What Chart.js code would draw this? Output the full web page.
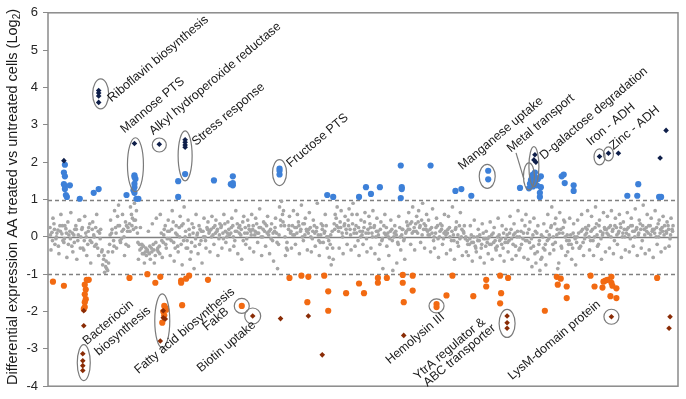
<!DOCTYPE html>
<html>
<head>
<meta charset="utf-8">
<script src="https://cdn.jsdelivr.net/npm/chart.js@4.4.1/dist/chart.umd.min.js"></script>
<style>
  html, body { margin: 0; padding: 0; background: #fff; }
  canvas { display: block; }
</style>
</head>
<body>
<canvas id="exprChart" width="686" height="399"></canvas>
<script>
// y ticks (log2 fold change)
const yTicks = [-4, -3, -2, -1, 0, 1, 2, 3, 4, 5, 6];
const refLines = [1, 0, -1];

// genes inside the +/-1 band, in genome order (two genes per step)
const grayA = [
  0.25, 0.12, 0.35, -0.05, 0.18, 0.3, 0.08, -0.15, 0.22, 0.4,
  0.15, -0.25, 0.05, 0.3, -0.1, 0.45, 0.2, -0.35, 0.1, -0.2,
  0.35, -0.15, 0.05, 0.25, -0.3, 0.1, -0.4, -0.6, -0.8, -0.9,
  -0.2, 0.1, -0.1, 0.25, 0.55, 0.3, -0.05, 0.2, 0.4, 0.15,
  0.35, 0.6, 0.2, 0.45, 0.1, -0.2, -0.3, -0.25, -0.4, -0.35,
  -0.45, -0.3, -0.2, -0.5, -0.35, -0.25, 0.1, -0.15, 0.3, -0.05,
  0.15, -0.1, 0.4, -0.3, 0.05, 0.25, -0.2, 0.35, 0.0, -0.1,
  0.2, -0.4, 0.1, -0.25, 0.05, 0.3, -0.1, 0.15, 0.0, 0.25,
  0.1, 0.2, 0.05, 0.3, 0.15, -0.05, 0.25, 0.1, 0.35, 0.0,
  0.2, 0.1, 0.3, -0.1, 0.15, 0.25, 0.05, 0.4, 0.1, -0.05,
  0.3, 0.15, 0.2, 0.05, 0.35, 0.1, 0.25, 0.0, 0.15, 0.3,
  0.05, 0.2, -0.1, 0.15, 0.1, -0.2, 0.45, 0.6, 0.3, -0.3,
  0.2, 0.1, 0.3, 0.05, 0.25, 0.4, 0.15, 0.0, 0.35, 0.2,
  0.1, 0.25, -0.05, 0.3, 0.15, 0.05, -0.15, 0.2, 0.1, 0.3,
  0.0, -0.2, 0.15, 0.35, 0.5, 0.25, 0.4, 0.1, 0.3, 0.2,
  0.45, 0.2, 0.6, 0.1, 0.3, -0.1, 0.15, 0.05, 0.25, 0.1,
  0.2, 0.35, 0.1, 0.25, 0.0, 0.15, -0.2, -0.1, 0.3, 0.05,
  0.1, -0.05, 0.2, 0.0, 0.15, -0.15, 0.25, 0.05, -0.1, 0.1,
  0.3, 0.2, 0.4, 0.15, 0.35, 0.1, 0.25, 0.45, 0.2, 0.3,
  0.15, 0.05, 0.25, -0.1, 0.1, 0.3, 0.0, 0.2, -0.05, 0.15,
  0.1, 0.25, -0.1, 0.05, 0.2, -0.15, 0.3, 0.0, 0.15, -0.05,
  -0.1, -0.2, 0.05, -0.15, -0.25, 0.0, -0.1, -0.3, 0.1, -0.05,
  -0.15, 0.0, -0.2, 0.1, -0.1, -0.25, 0.05, -0.05, -0.3, -0.15,
  0.05, -0.1, 0.2, -0.2, 0.1, 0.0, -0.35, 0.15, -0.05, 0.3,
  -0.1, 0.2, -0.3, 0.05, -0.45, 0.1, -0.2, -0.6, 0.0, -0.35,
  0.15, -0.05, 0.25, -0.2, 0.35, 0.05, -0.7, 0.2, 0.1, 0.4,
  -0.1, -0.2, 0.05, -0.3, 0.0, -0.15, 0.1, -0.25, 0.2, -0.05,
  0.1, 0.3, -0.1, 0.2, 0.0, 0.35, -0.2, 0.15, 0.05, 0.25,
  0.2, 0.05, 0.3, 0.15, -0.1, 0.25, 0.1, 0.35, 0.0, 0.2,
  0.1, 0.25, -0.05, 0.3, 0.15, 0.2, 0.05, 0.35, -0.1, 0.2,
  0.25, 0.1, 0.3, 0.15, 0.2, 0.0, 0.35, 0.1, 0.25, 0.05,
  0.15, 0.3, -0.05, 0.2
];
const grayB = [
  -0.35, 0.5, -0.2, 0.1, -0.45, 0.6, -0.1, 0.3, -0.55, 0.05,
  0.65, -0.4, 0.2, -0.6, 0.45, 0.0, -0.3, 0.55, -0.5, 0.25,
  -0.7, 0.4, -0.25, 0.6, -0.5, 0.2, -0.75, -0.95, -0.85, -0.7,
  0.45, -0.4, 0.7, -0.3, 0.85, -0.15, 0.6, -0.5, 0.3, -0.25,
  0.8, 0.5, 0.9, 0.7, -0.6, 0.25, -0.45, -0.7, -0.5, 0.15,
  -0.6, 0.35, -0.7, 0.5, -0.4, 0.6, -0.55, 0.2, -0.3, 0.45,
  -0.5, 0.7, -0.65, 0.3, -0.4, 0.55, -0.75, 0.8, -0.3, 0.45,
  -0.6, 0.35, -0.85, 0.6, -0.45, 0.2, -0.7, 0.5, -0.3, 0.4,
  -0.4, 0.55, -0.2, 0.45, -0.5, 0.35, -0.3, 0.6, -0.15, 0.4,
  -0.35, 0.5, -0.25, 0.7, -0.45, 0.3, -0.6, 0.55, -0.2, 0.45,
  -0.3, 0.6, -0.4, 0.5, -0.15, 0.75, -0.5, 0.4, -0.25, 0.55,
  -0.45, 0.35, -0.65, 0.5, -0.85, 0.8, 0.95, 0.7, -0.5, -0.35,
  0.55, -0.3, 0.7, -0.2, 0.6, -0.45, 0.85, -0.1, 0.5, -0.35,
  0.65, -0.4, 0.45, -0.25, 0.9, -0.5, 0.35, -0.15, 0.6, -0.3,
  -0.55, -0.75, -0.6, 0.6, 0.8, -0.3, 0.7, -0.45, 0.55, -0.2,
  0.75, -0.35, 0.9, -0.25, 0.6, -0.5, 0.45, -0.2, 0.65, -0.4,
  0.55, -0.3, 0.7, -0.45, 0.5, -0.6, 0.4, -0.85, 0.6, -0.25,
  -0.5, 0.45, -0.9, 0.3, -0.7, 0.55, -0.35, 0.2, -0.6, 0.4,
  0.65, -0.2, 0.8, -0.35, 0.55, 0.7, -0.15, 0.9, -0.3, 0.6,
  0.45, -0.4, 0.75, -0.3, 0.5, -0.55, 0.35, -0.2, 0.6, -0.45,
  0.55, -0.35, 0.8, -0.6, 0.4, -0.25, 0.65, -0.5, 0.3, -0.4,
  -0.5, 0.3, -0.65, 0.45, -0.4, 0.2, -0.55, 0.35, -0.7, 0.15,
  -0.45, 0.4, -0.6, 0.25, -0.35, 0.5, -0.5, 0.3, -0.65, 0.2,
  -0.4, 0.55, -0.6, 0.35, -0.5, 0.7, -0.3, 0.45, -0.55, 0.6,
  -0.6, 0.4, -0.8, 0.5, -0.7, 0.3, -0.9, -0.55, 0.35, -0.75,
  0.6, -0.45, 0.8, -0.35, 0.5, -0.85, 0.65, -0.3, 0.45, -0.5,
  -0.4, 0.5, -0.6, 0.35, -0.75, 0.45, -0.3, 0.6, -0.5, 0.25,
  0.7, -0.35, 0.55, -0.5, 0.8, -0.25, 0.45, -0.6, 0.65, -0.4,
  0.55, -0.3, 0.7, -0.45, 0.5, -0.2, 0.6, -0.55, 0.4, -0.35,
  0.65, -0.4, 0.5, -0.25, 0.75, -0.5, 0.45, -0.3, 0.85, -0.45,
  0.6, -0.35, 0.5, -0.55, 0.7, -0.2, 0.45, -0.4, 0.55, -0.3,
  0.4, -0.25, 0.5, 0.3
];
const grayC = [
  0.05, -0.1, 0.2, 0.0, -0.25, 0.15, 0.3, -0.05, 0.1, -0.2,
  -0.05, 0.1, -0.15, 0.2, 0.05, -0.3, 0.25, -0.1, 0.0, 0.15,
  -0.1, 0.2, 0.0, -0.2, 0.15, -0.05, -0.35, -0.5, -0.65, -0.4,
  0.05, 0.2, -0.25, 0.1, 0.3, -0.1, 0.15, 0.0, -0.2, 0.25,
  0.15, 0.3, 0.45, 0.25, -0.15, -0.35, -0.2, -0.45, -0.3, -0.4,
  -0.25, -0.4, -0.35, -0.15, -0.3, -0.45, -0.1, 0.05, -0.2, 0.15,
  -0.05, 0.2, -0.15, 0.1, -0.25, 0.0, 0.3, -0.1, 0.15, -0.3,
  0.05, -0.15, 0.25, -0.05, 0.1, -0.2, 0.15, 0.0, -0.1, 0.2,
  0.15, 0.0, 0.25, 0.1, 0.2, 0.05, 0.3, -0.05, 0.15, 0.1,
  0.05, 0.25, 0.0, 0.15, 0.35, 0.1, 0.2, -0.1, 0.25, 0.1,
  0.2, 0.05, 0.3, 0.15, 0.1, 0.25, 0.0, 0.2, 0.35, 0.1,
  0.15, -0.05, 0.1, 0.25, -0.15, 0.05, 0.3, 0.4, 0.0, -0.15,
  0.3, 0.15, 0.05, 0.25, 0.1, 0.3, 0.2, 0.35, 0.05, 0.15,
  0.2, 0.0, 0.15, 0.1, 0.25, -0.1, 0.05, 0.3, 0.15, 0.0,
  -0.1, 0.05, -0.3, 0.2, 0.3, 0.15, 0.25, 0.0, 0.35, 0.1,
  0.3, 0.05, 0.35, 0.2, 0.1, 0.25, 0.0, 0.15, 0.4, -0.05,
  0.1, 0.25, 0.0, 0.3, 0.15, 0.05, 0.2, -0.05, 0.1, 0.25,
  0.0, 0.15, -0.1, 0.1, 0.05, -0.2, 0.0, 0.2, -0.05, 0.15,
  0.2, 0.35, 0.1, 0.25, 0.15, 0.4, 0.3, 0.05, 0.35, 0.2,
  0.05, 0.2, 0.1, 0.0, 0.25, -0.05, 0.15, 0.3, 0.1, 0.05,
  0.2, 0.0, 0.15, -0.1, 0.25, 0.05, -0.05, 0.2, 0.1, 0.0,
  -0.2, -0.05, -0.15, 0.0, -0.3, -0.1, 0.05, -0.2, -0.05, -0.25,
  -0.05, -0.2, 0.05, -0.15, -0.3, 0.0, -0.1, -0.2, 0.1, -0.05,
  -0.15, 0.1, -0.05, 0.05, -0.25, 0.15, 0.0, -0.2, 0.1, -0.1,
  0.1, -0.15, -0.05, -0.25, 0.15, -0.4, -0.1, 0.05, -0.3, -0.2,
  -0.1, 0.05, 0.3, 0.0, -0.15, 0.2, 0.1, -0.25, 0.25, 0.0,
  0.05, -0.1, -0.2, 0.1, -0.05, 0.0, -0.3, 0.15, -0.15, 0.05,
  0.2, 0.0, 0.15, -0.1, 0.25, 0.05, 0.3, -0.05, 0.1, 0.2,
  0.1, 0.25, 0.0, 0.2, 0.3, 0.05, 0.15, 0.25, 0.1, 0.0,
  0.2, 0.05, 0.3, 0.15, 0.0, 0.25, 0.1, 0.2, 0.3, 0.05,
  0.15, 0.3, 0.05, 0.2, 0.1, 0.25, 0.0, 0.2, 0.15, 0.3,
  0.1, 0.2, 0.05, 0.15
];

// up-regulated genes (> 1)
const upX = [15, 14, 15, 14, 15, 15, 20, 16, 17, 30, 44, 49, 77, 85, 85, 86, 85, 85, 84, 85, 87, 89,
  129, 129, 136, 165, 182, 184, 184, 184, 231, 231, 231, 279, 285, 311, 318, 323, 332, 353, 354, 354, 353,
  383, 408, 414, 424, 441, 441, 473, 482, 483, 484, 485, 486, 487, 488, 489, 490, 488, 486, 491, 494, 494,
  493, 493, 517, 515, 518, 527, 527, 592, 581, 591, 613, 615];
const upY = [1.93, 1.72, 1.62, 1.41, 1.36, 1.28, 1.38, 1.12, 1.07, 1.02, 1.18, 1.28, 1.12, 1.65, 1.6, 1.55, 1.42, 1.33, 1.25, 1.18, 1.02, 1.02,
  1.49, 1.07, 1.68, 1.51, 1.41, 1.62, 1.44, 1.38, 1.83, 1.77, 1.67, 1.12, 1.07, 1.07, 1.33, 1.15, 1.33, 1.91, 1.33, 1.28, 1.04,
  1.91, 1.23, 1.28, 1.1, 1.77, 1.54, 1.31, 1.3, 1.42, 1.52, 1.6, 1.67, 1.5, 1.45, 1.58, 1.38, 1.72, 1.35, 1.55, 1.62, 1.33,
  1.18, 1.07, 1.67, 1.62, 1.44, 1.38, 1.23, 1.41, 1.1, 1.1, 1.07, 1.07];

// highlighted up-regulated genes
const upKeyX = [14, 49, 49, 49, 49, 85, 110, 136, 136, 136, 136, 488, 487, 489, 553, 562, 572, 614, 620];
const upKeyY = [2.04, 3.92, 3.85, 3.77, 3.6, 2.5, 2.48, 2.6, 2.53, 2.46, 2.4, 2.2, 2.06, 2.0, 2.15, 2.24, 2.24, 2.11, 2.85];

// down-regulated genes (< -1)
const downX = [3, 14, 39, 37, 35, 36, 35, 36, 35, 35, 34, 80, 98, 106, 111, 115, 116, 114, 117, 115, 113,
  132, 132, 137, 140, 133, 159, 193, 241, 253, 260, 276, 259, 280, 280, 298, 311, 316, 330, 330, 339,
  355, 355, 365, 365, 356, 389, 389, 399, 405, 439, 439, 426, 453, 461, 454, 453, 498, 510, 514, 511,
  520, 520, 544, 548, 557, 559, 556, 561, 565, 565, 566, 570, 564, 570, 611];
const downY = [-1.2, -1.31, -1.15, -1.15, -1.28, -1.41, -1.54, -1.67, -1.75, -1.88, -1.93, -1.1, -1.0, -1.23, -1.07, -1.85, -1.9, -2.0, -1.95, -2.1, -2.3,
  -1.17, -1.23, -1.12, -1.04, -1.83, -1.15, -1.85, -1.1, -1.04, -1.07, -1.04, -1.75, -1.46, -1.98, -1.51, -1.25, -1.51, -1.1, -1.23, -1.1,
  -1.02, -1.23, -1.04, -1.44, -1.75, -1.8, -1.88, -1.57, -1.04, -1.15, -1.33, -1.59, -1.04, -1.1, -1.51, -1.78, -1.98, -1.07, -1.12, -1.28,
  -1.33, -1.64, -1.04, -1.33, -1.2, -1.17, -1.36, -1.15, -1.07, -1.23, -1.31, -1.38, -1.59, -1.64, -1.1];

// highlighted down-regulated genes
const downKeyX = [34, 34, 33, 33, 33, 33, 114, 114, 116, 111, 204, 232, 260, 274, 356, 460, 460, 460, 565, 624, 623];
const downKeyY = [-1.98, -2.38, -3.13, -3.32, -3.45, -3.58, -1.98, -2.17, -2.2, -2.79, -2.12, -2.19, -2.12, -3.16, -2.64, -2.12, -2.3, -2.45, -2.14, -2.14, -2.45];

// callout labels and rings (data coordinates)
const callouts = [
  ['Riboflavin biosynthesis', 62, 3.6],
  ['Mannose PTS', 75, 2.77],
  ['Alkyl hydroperoxide reductase', 104, 2.72],
  ['Stress response', 147, 2.43],
  ['Fructose PTS', 242, 1.85],
  ['Manganese uptake', 415, 1.78],
  ['Metal transport', 464, 2.25],
  ['D-galactose degradation', 497, 2.06],
  ['Iron - ADH', 544, 2.43],
  ['Zinc - ADH', 567, 2.32],
  ['Bacteriocin', 37, -2.9],
  ['biosynthesis', 49, -3.19],
  ['Fatty acid biosynthesis', 89, -3.68],
  ['FakB', 158, -2.53],
  ['Biotin uptake', 152, -3.63],
  ['Hemolysin III', 342, -3.42],
  ['YtrA regulator &', 370, -3.84],
  ['ABC transporter', 380, -4.02],
  ['LysM-domain protein', 465, -3.84]
];
const rings = [
  [51, 3.83, 8, 15], [86, 1.93, 8, 27], [110, 2.46, 7, 7], [136, 2.17, 7, 25],
  [231, 1.72, 7, 13], [440, 1.62, 8, 12], [482, 1.62, 5.5, 13.5], [487, 1.88, 5, 20],
  [553, 2.14, 5.5, 8], [562, 2.22, 5, 7],
  [34, -3.37, 6.5, 18], [113, -2.25, 7.5, 27], [193, -1.85, 7.5, 7.5], [204, -2.12, 8, 8],
  [389, -1.85, 7.5, 7], [460, -2.32, 8, 14], [565, -2.14, 7.5, 7.5]
];
const leader = [[469, 2.25], [477, 1.54]];

const FONT = "Arial, 'Liberation Sans', sans-serif";

function pts(xs, ys) {
    return xs.map((x, i) => ({ x: x, y: ys[i] }));
}
function grayPts(arr, offset) {
    return arr.map((v, i) => ({ x: i * 2 + offset, y: v }));
}

const chartDecor = {
    id: 'chartDecor',
    beforeDatasetsDraw(chart) {
        const { ctx, chartArea: a, scales: { y } } = chart;
        ctx.save();
        ctx.strokeStyle = '#808080';
        refLines.forEach(v => {
            const py = Math.round(y.getPixelForValue(v)) + 0.5;
            ctx.lineWidth = v === 0 ? 1.6 : 1.3;
            ctx.setLineDash(v === 0 ? [] : [4, 3]);
            ctx.beginPath();
            ctx.moveTo(a.left, py);
            ctx.lineTo(a.right, py);
            ctx.stroke();
        });
        ctx.setLineDash([]);
        ctx.lineWidth = 1.5;
        ctx.strokeStyle = '#8a8a8a';
        ctx.strokeRect(a.left, a.top, a.right - a.left, a.bottom - a.top);
        ctx.restore();
    },
    afterDatasetsDraw(chart) {
        const { ctx, scales: { x, y } } = chart;
        ctx.save();

        // rings
        ctx.strokeStyle = '#7a7a7a';
        ctx.lineWidth = 1.2;
        rings.forEach(([cx, cy, rx, ry]) => {
            ctx.beginPath();
            ctx.ellipse(x.getPixelForValue(cx), y.getPixelForValue(cy), rx, ry, 0, 0, Math.PI * 2);
            ctx.stroke();
        });
        ctx.beginPath();
        ctx.moveTo(x.getPixelForValue(leader[0][0]), y.getPixelForValue(leader[0][1]));
        ctx.lineTo(x.getPixelForValue(leader[1][0]), y.getPixelForValue(leader[1][1]));
        ctx.stroke();

        // rotated labels
        ctx.fillStyle = '#1a1a1a';
        ctx.font = '12.5px ' + FONT;
        ctx.textAlign = 'left';
        ctx.textBaseline = 'alphabetic';
        callouts.forEach(([txt, lx, ly]) => {
            ctx.save();
            ctx.translate(x.getPixelForValue(lx), y.getPixelForValue(ly));
            ctx.rotate(-40 * Math.PI / 180);
            ctx.fillText(txt, 0, 0);
            ctx.restore();
        });

        // y axis title with subscript
        const main = 'Differential expression AA treated vs untreated cells (Log';
        ctx.font = '14.5px ' + FONT;
        const w1 = ctx.measureText(main).width;
        ctx.font = '10px ' + FONT;
        const w2 = ctx.measureText('2').width;
        ctx.font = '14.5px ' + FONT;
        const w3 = ctx.measureText(')').width;
        const total = w1 + w2 + w3;
        ctx.translate(13, 197);
        ctx.rotate(-Math.PI / 2);
        ctx.textBaseline = 'middle';
        ctx.fillText(main, -total / 2, 0);
        ctx.font = '10px ' + FONT;
        ctx.fillText('2', -total / 2 + w1, 4);
        ctx.font = '14.5px ' + FONT;
        ctx.fillText(')', -total / 2 + w1 + w2, 0);
        ctx.restore();
    }
};

const ctx = document.getElementById('exprChart').getContext('2d');
new Chart(ctx, {
    type: 'scatter',
    data: {
        datasets: [
            { data: grayPts(grayA, 0), backgroundColor: '#a6a6a6', borderWidth: 0, pointRadius: 1.85, order: 5 },
            { data: grayPts(grayB, 1), backgroundColor: '#a6a6a6', borderWidth: 0, pointRadius: 1.85, order: 5 },
            { data: grayPts(grayC, 0.5), backgroundColor: '#a6a6a6', borderWidth: 0, pointRadius: 1.85, order: 5 },
            { data: pts(upX, upY), backgroundColor: '#3d80d8', borderWidth: 0, pointRadius: 3.1, order: 3 },
            { data: pts(downX, downY), backgroundColor: '#f26a12', borderWidth: 0, pointRadius: 3.1, order: 3 },
            { data: pts(upKeyX, upKeyY), backgroundColor: '#0f1f4a', borderWidth: 0, pointRadius: 2.8, pointStyle: 'rectRot', order: 1 },
            { data: pts(downKeyX, downKeyY), backgroundColor: '#8a2c06', borderWidth: 0, pointRadius: 2.8, pointStyle: 'rectRot', order: 1 }
        ]
    },
    options: {
        responsive: false,
        animation: false,
        layout: { padding: { top: 7, right: 8, bottom: 9, left: 0 } },
        plugins: { legend: { display: false }, tooltip: { enabled: false } },
        scales: {
            x: { type: 'linear', min: -2, max: 632, display: false },
            y: {
                min: -4,
                max: 6,
                afterFit(scale) { scale.width = 48; },
                afterBuildTicks(scale) { scale.ticks = yTicks.map(v => ({ value: v })); },
                ticks: { color: '#262626', font: { family: FONT, size: 13 }, padding: 5 },
                grid: { drawOnChartArea: false, drawTicks: true, tickLength: 5, color: '#8a8a8a' },
                border: { display: false }
            }
        }
    },
    plugins: [chartDecor]
});
</script>
</body>
</html>
